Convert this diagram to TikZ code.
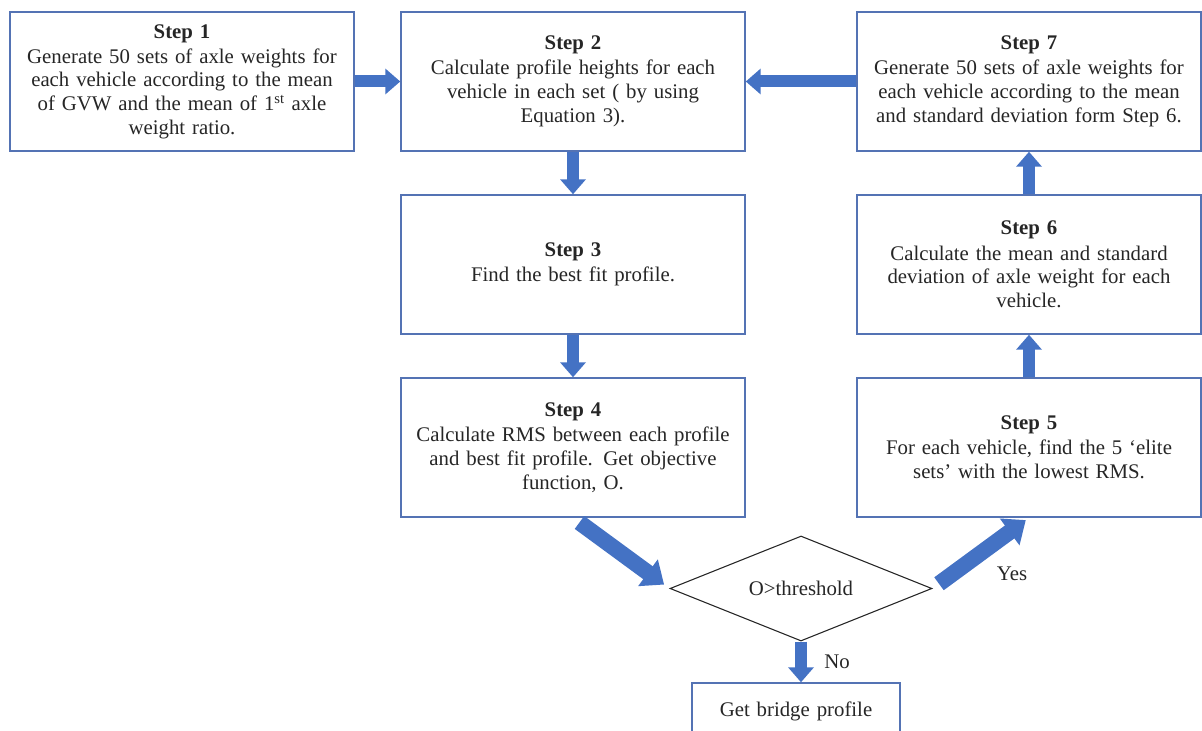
\documentclass[tikz,border=0pt]{standalone}
\usepackage{fontspec}
\setmainfont{Liberation Serif}
\usetikzlibrary{arrows.meta, positioning, shapes.geometric}
\definecolor{boxblue}{RGB}{84,115,180}
\definecolor{arrowblue}{RGB}{68,114,196}
\definecolor{txtgray}{RGB}{38,38,38}

\begin{document}
\begin{tikzpicture}[x=0.75pt, y=-0.75pt,
    stepbox/.style={draw=boxblue, line width=1.1pt, fill=white, text=txtgray, align=center,
        text width=250pt, minimum height=104.25pt, inner sep=4pt,
        font=\fontsize{15.6}{17.8}\selectfont},
    decision/.style={draw=black!85, line width=0.8pt, diamond, aspect=2.5,
        minimum width=196.5pt, minimum height=78.75pt, inner sep=0pt, fill=white,
        text=txtgray, font=\fontsize{15.6}{17.8}\selectfont},
    blockarrow/.style={draw=arrowblue, line width=9pt, -{Triangle[width=18.75pt, length=11.25pt]}},
    diagarrow/.style={draw=arrowblue, line width=12pt, -{Triangle[width=24pt, length=15pt]}},
    lbl/.style={text=txtgray, font=\fontsize{15.6}{17.8}\selectfont}]
    \useasboundingbox (0,0) rectangle (1202,731);

    % Top row
    \node[stepbox] (step1) at (182,81.5) {\textbf{Step 1}\\[1pt]
        Generate 50 sets of axle weights for\\
        each vehicle according to the mean\\
        of GVW and the mean of 1\textsuperscript{st} axle\\
        weight ratio.};
    \node[stepbox] (step2) at (573,81.5) {\textbf{Step 2}\\[1pt]
        Calculate profile heights for each\\
        vehicle in each set ( by using\\
        Equation 3).};
    \node[stepbox] (step7) at (1029,81.5) {\textbf{Step 7}\\[1pt]
        Generate 50 sets of axle weights for\\
        each vehicle according to the mean\\
        and standard deviation form Step 6.};

    % Middle rows
    \node[stepbox] (step3) at (573,264.5) {\textbf{Step 3}\\[1pt]
        Find the best fit profile.};
    \node[stepbox] (step6) at (1029,264.5) {\textbf{Step 6}\\[1pt]
        Calculate the mean and standard\\
        deviation of axle weight for each\\
        vehicle.};
    \node[stepbox] (step4) at (573,447.5) {\textbf{Step 4}\\[1pt]
        Calculate RMS between each profile\\
        and best fit profile. Get objective\\
        function, O.};
    \node[stepbox] (step5) at (1029,447.5) {\textbf{Step 5}\\[1pt]
        For each vehicle, find the 5 ‘elite\\
        sets’ with the lowest RMS.};

    % Decision and end
    \node[decision] (dia) at (801,588.5) {O>threshold};
    \node[stepbox, text width=148pt, minimum height=42.75pt] (getbp) at (796,711.5) {Get bridge profile};

    % Arrows
    \draw[blockarrow] (step1.east) -- (step2.west);
    \draw[blockarrow] (step7.west) -- (step2.east);
    \draw[blockarrow] (step2.south) -- (step3.north);
    \draw[blockarrow] (step3.south) -- (step4.north);
    \draw[diagarrow, shorten <=6pt, shorten >=5pt] (step4.south) -- (dia.west);
    \draw[diagarrow, shorten <=6pt, shorten >=3pt] (dia.east) -- (step5.south);
    \draw[blockarrow] (step5.north) -- (step6.south);
    \draw[blockarrow] (step6.north) -- (step7.south);
    \draw[blockarrow] (dia.south) -- (dia.south |- getbp.north);
    \node[lbl] (yes) at (1012,574) {Yes};
    \node[lbl] (no) at (837,662) {No};
\end{tikzpicture}
\end{document}
